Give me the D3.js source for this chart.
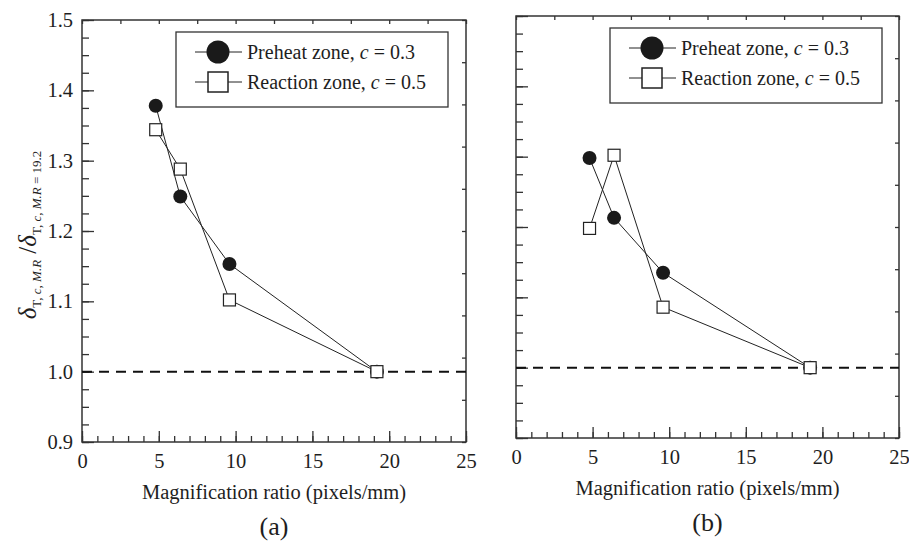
<!DOCTYPE html>
<head>
    <meta charset="utf-8">
    <style>
        body { margin: 0; background: #fff; }
        svg text { font-family: "Liberation Serif", "DejaVu Serif", serif; fill: #1e1e1e; }
        .tick line { stroke: #333; stroke-width: 1.3; }
        .tick text { font-size: 20.5px; }
    </style>
</head>
<body>
    <script src="https://d3js.org/d3.v7.min.js"></script>
    <script>

        // magnification ratios (pixels/mm)
        var mr = [4.8, 6.4, 9.6, 19.2];

        // panel (a)
        var preheatA  = [1.378, 1.249, 1.153, 1.0];
        var reactionA = [1.344, 1.288, 1.102, 1.0];

        // panel (b)
        var preheatB  = [1.298, 1.213, 1.135, 1.0];
        var reactionB = [1.198, 1.302, 1.086, 1.0];

        var xTicks = [0, 5, 10, 15, 20, 25];
        var yTicks = [0.9, 1.0, 1.1, 1.2, 1.3, 1.4, 1.5];
        var refLine = 1.0;

        var legendLabels = [
            ["Preheat zone, ", "c", " = 0.3"],
            ["Reaction zone, ", "c", " = 0.5"]
        ];

        var svg = d3.select("body")
            .append("svg")
            .attr("width", 909)
            .attr("height", 541);

        function drawPanel(opts) {
            var x = d3.scaleLinear().domain([0, 25]).range([opts.left, opts.right]);
            var y = d3.scaleLinear().domain([0.9, 1.5]).range([opts.bottom, opts.top]);
            var g = svg.append("g");

            // minor ticks
            g.append("g")
                .attr("transform", "translate(0," + opts.bottom + ")")
                .call(d3.axisBottom(x).tickValues(d3.range(0, 26, 1)).tickSize(-6).tickFormat(""))
                .call(function(s) { s.select(".domain").remove(); });
            g.append("g")
                .attr("transform", "translate(" + opts.left + ",0)")
                .call(d3.axisLeft(y).tickValues(d3.range(0, 25).map(function(i) { return 0.9 + i * 0.025; })).tickSize(-7).tickFormat(""))
                .call(function(s) { s.select(".domain").remove(); });

            // top and right: ten plain divisions
            g.append("g")
                .attr("transform", "translate(0," + opts.top + ")")
                .call(d3.axisTop(x).tickValues(d3.range(0, 11).map(function(i) { return i * 2.5; })).tickSize(-4).tickFormat(""))
                .call(function(s) { s.select(".domain").remove(); });
            g.append("g")
                .attr("transform", "translate(" + opts.right + ",0)")
                .call(d3.axisRight(y).tickValues(d3.range(0, 11).map(function(i) { return 0.9 + i * 0.06; })).tickSize(-4).tickFormat(""))
                .call(function(s) { s.select(".domain").remove(); });

            // major ticks with labels
            g.append("g")
                .attr("transform", "translate(0," + opts.bottom + ")")
                .call(d3.axisBottom(x).tickValues(xTicks).tickSize(-11).tickPadding(11).tickFormat(d3.format("d")))
                .call(function(s) { s.select(".domain").remove(); });
            g.append("g")
                .attr("transform", "translate(" + opts.left + ",0)")
                .call(d3.axisLeft(y).tickValues(yTicks).tickSize(-12).tickPadding(9)
                    .tickFormat(opts.yLabels ? d3.format(".1f") : ""))
                .call(function(s) { s.select(".domain").remove(); });

            // frame
            g.append("rect")
                .attr("x", opts.left)
                .attr("y", opts.top)
                .attr("width", opts.right - opts.left)
                .attr("height", opts.bottom - opts.top)
                .attr("fill", "none")
                .attr("stroke", "#333")
                .attr("stroke-width", 1.5);

            // reference line
            g.append("line")
                .attr("x1", opts.left)
                .attr("x2", opts.right)
                .attr("y1", y(refLine))
                .attr("y2", y(refLine))
                .attr("stroke", "#111")
                .attr("stroke-width", 2)
                .attr("stroke-dasharray", "10,7");

            var line = d3.line()
                .x(function(d) { return x(d[0]); })
                .y(function(d) { return y(d[1]); });

            var pre = d3.zip(mr, opts.preheat);
            var rea = d3.zip(mr, opts.reaction);

            g.append("path").datum(pre).attr("d", line)
                .attr("fill", "none").attr("stroke", "#222").attr("stroke-width", 1);
            g.append("path").datum(rea).attr("d", line)
                .attr("fill", "none").attr("stroke", "#222").attr("stroke-width", 1);

            g.selectAll(".pre-dot")
                .data(pre)
                .enter().append("circle")
                .attr("cx", function(d) { return x(d[0]); })
                .attr("cy", function(d) { return y(d[1]); })
                .attr("r", 7)
                .attr("fill", "#1a1a1a");

            g.selectAll(".rea-dot")
                .data(rea)
                .enter().append("rect")
                .attr("x", function(d) { return x(d[0]) - 6; })
                .attr("y", function(d) { return y(d[1]) - 6; })
                .attr("width", 12)
                .attr("height", 12)
                .attr("fill", "#fff")
                .attr("stroke", "#222")
                .attr("stroke-width", 1.2);

            // legend
            var lx = opts.left + 94, ly = opts.top + 12;
            g.append("rect")
                .attr("x", lx).attr("y", ly)
                .attr("width", 272).attr("height", 75)
                .attr("fill", "#fff")
                .attr("stroke", "#333")
                .attr("stroke-width", 1.3);

            legendLabels.forEach(function(lab, i) {
                var cy = ly + 20 + i * 30;
                g.append("line")
                    .attr("x1", lx + 19).attr("x2", lx + 66)
                    .attr("y1", cy).attr("y2", cy)
                    .attr("stroke", "#222").attr("stroke-width", 1);
                if (i === 0) {
                    g.append("circle")
                        .attr("cx", lx + 42).attr("cy", cy).attr("r", 11.5)
                        .attr("fill", "#1a1a1a");
                } else {
                    g.append("rect")
                        .attr("x", lx + 32).attr("y", cy - 10)
                        .attr("width", 20).attr("height", 20)
                        .attr("fill", "#fff").attr("stroke", "#222").attr("stroke-width", 1.5);
                }
                var t = g.append("text")
                    .attr("x", lx + 71).attr("y", cy + 7)
                    .style("font-size", "20px");
                t.append("tspan").text(lab[0]);
                t.append("tspan").style("font-style", "italic").text(lab[1]);
                t.append("tspan").text(lab[2]);
            });

            // axis title and panel tag
            var cx = (opts.left + opts.right) / 2;
            g.append("text")
                .attr("x", cx).attr("y", opts.bottom + 57)
                .attr("text-anchor", "middle")
                .style("font-size", "20.5px")
                .text("Magnification ratio (pixels/mm)");
            g.append("text")
                .attr("x", cx).attr("y", opts.bottom + 93)
                .attr("text-anchor", "middle")
                .style("font-size", "26px")
                .text(opts.tag);
        }

        drawPanel({left: 82, right: 466, top: 20, bottom: 442,
                   preheat: preheatA, reaction: reactionA, yLabels: true, tag: "(a)"});
        drawPanel({left: 516, right: 899, top: 16, bottom: 438,
                   preheat: preheatB, reaction: reactionB, yLabels: false, tag: "(b)"});

        // y axis title, rotated
        var yt = svg.append("text")
            .attr("transform", "translate(36,235) rotate(-90)")
            .attr("text-anchor", "middle");
        yt.append("tspan").style("font-size", "25px").style("font-style", "italic").text("\u03b4");
        yt.append("tspan").attr("dy", 5).style("font-size", "13px").text("T, ");
        yt.append("tspan").style("font-size", "13px").style("font-style", "italic").text("c");
        yt.append("tspan").style("font-size", "13px").text(", ");
        yt.append("tspan").style("font-size", "13px").style("font-style", "italic").text("M.R");
        yt.append("tspan").attr("dy", -5).style("font-size", "25px").text(" /");
        yt.append("tspan").style("font-size", "25px").style("font-style", "italic").text("\u03b4");
        yt.append("tspan").attr("dy", 5).style("font-size", "13px").text("T, ");
        yt.append("tspan").style("font-size", "13px").style("font-style", "italic").text("c");
        yt.append("tspan").style("font-size", "13px").text(", ");
        yt.append("tspan").style("font-size", "13px").style("font-style", "italic").text("M.R");
        yt.append("tspan").style("font-size", "13px").text(" = 19.2");

    </script>
</body>
